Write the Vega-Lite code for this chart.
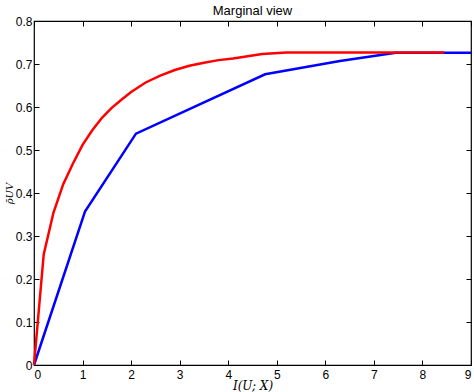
{
  "$schema": "https://vega.github.io/schema/vega-lite/v6.json",
  "autosize": "none",
  "width": 437,
  "height": 344,
  "padding": {"left": 34, "top": 21, "right": 3, "bottom": 27},
  "background": "white",
  "title": {"text": "Marginal view", "font": "Liberation Sans", "fontSize": 13, "fontWeight": "normal", "color": "black", "offset": -3},
  "config": {
    "view": {"stroke": "black", "strokeWidth": 1.2},
    "axis": {"grid": false, "domain": false, "tickColor": "black", "tickSize": -5, "labelFont": "Liberation Sans", "labelFontSize": 12, "labelColor": "black", "titleFont": "DejaVu Serif", "titleFontStyle": "italic", "titleFontWeight": "normal", "titleColor": "black"}
  },
  "datasets": {
    "blue": [
      {"x": 0, "y": 0},
      {"x": 1.05, "y": 0.357},
      {"x": 2.1, "y": 0.538},
      {"x": 4.76, "y": 0.676},
      {"x": 6.3, "y": 0.707},
      {"x": 7.45, "y": 0.726},
      {"x": 9, "y": 0.726}
    ],
    "red": [
      {"x": 0, "y": 0},
      {"x": 0.2, "y": 0.257},
      {"x": 0.4, "y": 0.354},
      {"x": 0.6, "y": 0.42},
      {"x": 0.8, "y": 0.468},
      {"x": 1.0, "y": 0.512},
      {"x": 1.2, "y": 0.546},
      {"x": 1.4, "y": 0.575},
      {"x": 1.6, "y": 0.598},
      {"x": 1.8, "y": 0.617},
      {"x": 2.0, "y": 0.635},
      {"x": 2.3, "y": 0.657},
      {"x": 2.6, "y": 0.673},
      {"x": 2.9, "y": 0.686},
      {"x": 3.2, "y": 0.696},
      {"x": 3.5, "y": 0.703},
      {"x": 3.8, "y": 0.709},
      {"x": 4.1, "y": 0.713},
      {"x": 4.4, "y": 0.718},
      {"x": 4.7, "y": 0.723},
      {"x": 5.2, "y": 0.727},
      {"x": 8.45, "y": 0.727}
    ]
  },
  "layer": [
    {
      "data": {"name": "blue"},
      "mark": {"type": "line", "color": "#0000ff", "strokeWidth": 2.5},
      "encoding": {
        "x": {"field": "x", "type": "quantitative", "scale": {"domain": [0, 9], "nice": false},
              "axis": {"orient": "bottom", "values": [0,1,2,3,4,5,6,7,8,9], "title": "I(U; X)", "titleFontSize": 12, "titlePadding": 0, "labelPadding": 9}},
        "y": {"field": "y", "type": "quantitative", "scale": {"domain": [0, 0.8], "nice": false},
              "axis": {"orient": "left", "values": [0,0.1,0.2,0.3,0.4,0.5,0.6,0.7,0.8], "format": "~g", "title": "ρ̄UV", "titleFontSize": 10, "titlePadding": 1, "labelPadding": 7}}
      }
    },
    {
      "data": {"name": "red"},
      "mark": {"type": "line", "color": "#ff0000", "strokeWidth": 2.5},
      "encoding": {
        "x": {"field": "x", "type": "quantitative", "scale": {"domain": [0, 9], "nice": false},
              "axis": {"orient": "top", "values": [0,1,2,3,4,5,6,7,8,9], "labels": false, "title": null}},
        "y": {"field": "y", "type": "quantitative", "scale": {"domain": [0, 0.8], "nice": false},
              "axis": {"orient": "right", "values": [0,0.1,0.2,0.3,0.4,0.5,0.6,0.7,0.8], "labels": false, "title": null}}
      }
    }
  ],
  "resolve": {"axis": {"x": "independent", "y": "independent"}}
}
